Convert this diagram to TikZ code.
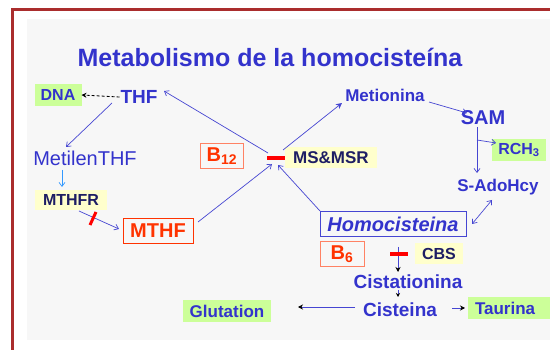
\documentclass[tikz,border=0pt]{standalone}
\usepackage{fontspec}
\setmainfont{Liberation Sans}
\usepackage{xcolor}
\definecolor{framered}{RGB}{170,45,45}
\definecolor{panel}{RGB}{247,247,247}
\definecolor{txtblue}{RGB}{51,51,204}
\definecolor{darkblue}{RGB}{30,30,100}
\definecolor{lineblue}{RGB}{70,70,210}
\definecolor{lightblue}{RGB}{51,153,255}
\definecolor{boxgreen}{RGB}{204,255,153}
\definecolor{boxyellow}{RGB}{255,255,204}
\definecolor{orangered}{RGB}{255,51,0}
\definecolor{salmon}{RGB}{255,130,100}
\usepackage{tikz}
\usetikzlibrary{arrows.meta,positioning}
\newcommand{\fs}[1]{\fontsize{#1}{#1}\selectfont}

\begin{document}
\begin{tikzpicture}[x=1pt,y=-1pt,
    every node/.style={inner sep=1pt,outer sep=0pt,font=\bfseries\fs{17},text=txtblue},
    big/.style={font=\bfseries\fs{20}},
    gbox/.style={fill=boxgreen,minimum height=22pt,inner xsep=6pt},
    ybox/.style={fill=boxyellow,text=darkblue,minimum height=21pt,inner xsep=6pt},
    rbox/.style={draw=salmon,line width=1pt,text=orangered,big,minimum height=25pt,inner xsep=6pt},
    ln/.style={draw=lineblue,line width=0.7pt,-{Straight Barb[length=4pt,width=6pt]}},
    blk/.style={draw=lineblue,line width=0.7pt,-{Stealth[length=5pt,width=5pt,color=black]}},
    cut/.style={draw=red,line width=3.5pt}]
    \clip (0,0) rectangle (550,350);
    \fill[panel] (27,19) rectangle (560,340);
    \draw[framered,line width=3pt] (12,360) -- (12,9.5) -- (560,9.5);

    \node[font=\bfseries\fs{25}] (title) at (270,57) {Metabolismo de la homocisteína};
    \node[gbox,font=\bfseries\fs{16},minimum width=47pt] (dna) at (58,95) {DNA};
    \node[big,font=\bfseries\fs{19}] (thf) at (139,97) {THF};
    \node (met) at (385,95) {Metionina};
    \node[big] (sam) at (483,118) {SAM};
    \node[gbox,font=\bfseries\fs{16},minimum width=53pt] (rch) at (519,150) {RCH\textsubscript{3}};
    \node (ado) at (498,187) {S-AdoHcy};
    \node[big,draw=lineblue,line width=1pt,minimum width=146pt,minimum height=25pt] (hcy) at (393,224) {\textit{Homocisteina}};
    \node[ybox,minimum width=92pt] (ms) at (331,158) {MS\&MSR};
    \coordinate (j) at (276,162);
    \node[rbox,minimum width=41pt] (b12) at (222,156) {B\textsubscript{12}};
    \node[font=\fs{20}] (metilen) at (85,158) {MetilenTHF};
    \node[ybox,font=\bfseries\fs{16},minimum width=72pt,minimum height=20pt] (mthfr) at (71,200) {MTHFR};
    \node[rbox,draw=orangered,minimum width=70pt] (mthf) at (158,231) {MTHF};
    \node[rbox,minimum width=44pt] (b6) at (342,254) {B\textsubscript{6}};
    \node[ybox,font=\bfseries\fs{16},minimum width=48pt] (cbs) at (439,254) {CBS};
    \node[font=\bfseries\fs{19}] (cist) at (408,282) {Cistationina};
    \node[font=\bfseries\fs{19}] (cis) at (400,310) {Cisteina};
    \node[gbox,minimum width=88pt] (glu) at (227,311) {Glutation};
    \node[gbox,anchor=west,text width=70pt,align=left,inner xsep=7pt] (tau) at (468,308) {Taurina};

    \draw[densely dashed,line width=0.8pt,-{Stealth[length=5pt,width=5pt]}] (thf.west) -- (dna.east);
    \draw[ln] ([shift={(-27,6)}]thf.center) -- ([shift={(-19,-11)}]metilen.center);
    \draw[ln] ([shift={(-8,-9)}]j) -- ([shift={(25,-6)}]thf.center);
    \draw[blk,-{Stealth[length=6pt,width=6pt]}] ([shift={(7,-12)}]j) -- ([shift={(-43,8)}]met.center);
    \draw[ln] ([shift={(40,-9)}]mthf.center) -- ([shift={(-4,2)}]j);
    \draw[ln] ([shift={(-73,-13)}]hcy.center) -- ([shift={(2,3)}]j);
    \draw[ln] ([shift={(44,7)}]met.center) -- ([shift={(-16,-5)}]sam.center);
    \draw[ln] ([shift={(-6,9)}]sam.center) -- ([shift={(-21,-14)}]ado.center);
    \draw[ln] ([shift={(-6,22)}]sam.center) -- ([shift={(-23,-7)}]rch.center);
    \draw[ln,{Straight Barb[length=4pt,width=6pt]}-{Straight Barb[length=4pt,width=6pt]}] ([shift={(-6,13)}]ado.center) -- ([shift={(79,0)}]hcy.center);
    \draw[ln,draw=lightblue] ([shift={(-23,12)}]metilen.center) -- ([shift={(-9,-13)}]mthfr.center);
    \draw[ln] ([shift={(8,11)}]mthfr.center) -- ([shift={(-39,-2)}]mthf.center);
    \draw[blk] ([shift={(5,23)}]hcy.center) -- ([shift={(-10,-10)}]cist.center);
    \draw[blk,-{Stealth[length=4pt,width=4pt,color=black]}] ([shift={(-10,8)}]cist.center) -- ([shift={(-2,-13)}]cis.center);
    \draw[blk] ([shift={(-45,-3)}]cis.center) -- ([shift={(71,-4)}]glu.center);
    \draw[blk] ([shift={(52,-2)}]cis.center) -- ([shift={(-3,0)}]tau.west);

    \draw[cut] ([shift={(-64,0)}]ms.center) -- ([shift={(-46,0)}]ms.center);
    \draw[cut] ([shift={(-49,0)}]cbs.center) -- ([shift={(-31,0)}]cbs.center);
    \draw[cut,line width=3pt] ([shift={(19,25)}]mthfr.center) -- ([shift={(25,12)}]mthfr.center);
\end{tikzpicture}
\end{document}
